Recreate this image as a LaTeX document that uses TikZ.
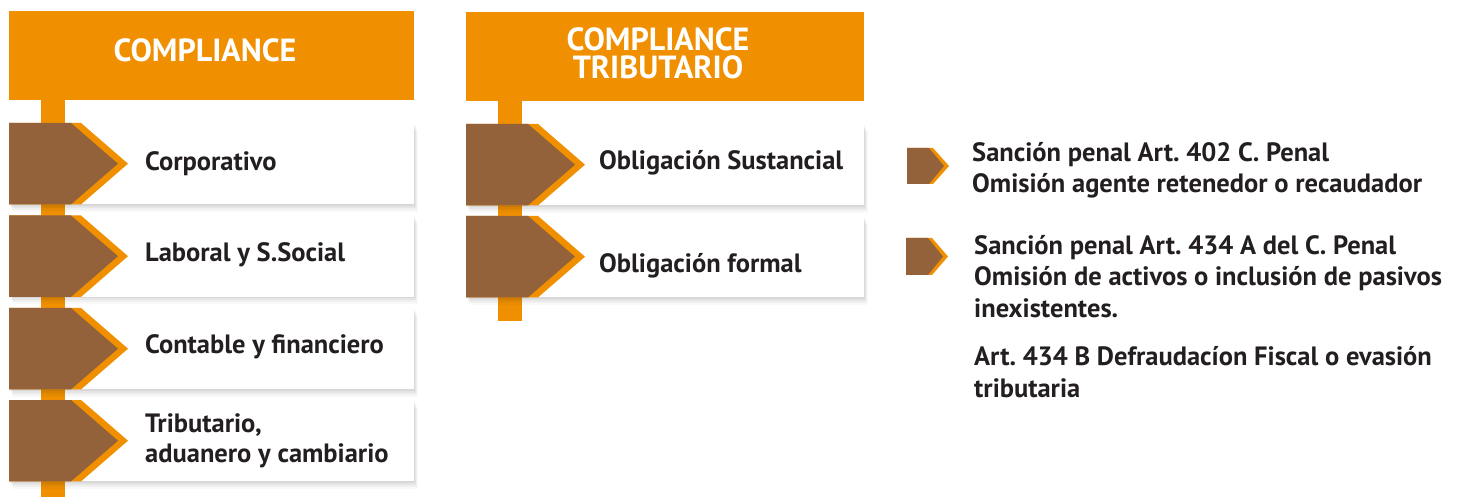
\documentclass[tikz,border=0pt]{standalone}
\usepackage{fontspec}
\setmainfont{PT Sans}
\usetikzlibrary{calc}
\frenchspacing
\definecolor{cor}{RGB}{240,144,0}
\definecolor{brn}{RGB}{147,98,58}
\definecolor{txt}{RGB}{35,31,32}
% [text offset]{name}{x}{ytop}{width}{text}
\newcommand\rowitem[6][136,0]{%
  \foreach \d/\op in {8/0.025,6/0.035,4/0.045,2/0.055}
    \fill[black,opacity=\op] (#3+\d*0.5,#4+\d) rectangle (#3+#5+\d*0.5,#4+81+\d);
  \node[rowbox, minimum width=#5] (#2) at (#3,#4) {};
  \fill[cor] (#2.north west) -- ++(72,0) -- ($(#2.west)+(119,0)$) -- ($(#2.south west)+(72,0)$) -- (#2.south west) -- cycle;
  \fill[brn] (#2.north west) -- ++(62,0) -- ($(#2.west)+(109,0)$) -- ($(#2.south west)+(62,0)$) -- (#2.south west) -- cycle;
  \node[lbl] (#2t) at ($(#2.west)+(#1)$) {#6};
}
\newcommand\marker[4]{% name, x, ytop, h
  \coordinate (#1) at (#2,#3);
  \fill[cor] (#1) -- ++(26,0) -- ++(16,#4/2) -- ++(-16,#4/2) -- ++(-26,0) -- cycle;
  \fill[brn] (#1) -- ++(22,0) -- ++(15,#4/2) -- ++(-15,#4/2) -- ++(-22,0) -- cycle;
}
\begin{document}
\begin{tikzpicture}[x=1pt,y=-1pt,
  hdr/.style={fill=cor, inner sep=0, minimum height=89pt, anchor=north west},
  rowbox/.style={fill=white, inner sep=0, minimum height=81pt, anchor=north west},
  lbl/.style={font=\bfseries\fontsize{26.5}{30}\selectfont, text=txt, anchor=west, inner sep=0, align=left},
  rtxt/.style={font=\bfseries\fontsize{26.5}{31.5}\selectfont, text=txt, anchor=base west, inner sep=0, align=left},
  htxt/.style={font=\bfseries\fontsize{32}{28.5}\selectfont, text=white, align=center, inner sep=0},
  bar/.style={draw=cor, line width=24pt}]
\useasboundingbox (0,0) rectangle (1460,497);
\fill[white] (0,0) rectangle (1460,497);
% headers
\node[hdr, minimum width=405pt] (h1) at (9,11) {};
\node[htxt] (h1t) at (205,50) {COMPLIANCE};
\node[hdr, minimum width=398pt] (h2) at (466,12) {};
\node[htxt, anchor=base] (h2t) at (658,79) {COMPLIANCE\\TRIBUTARIO};
% bars
\coordinate (e1) at (53,497);
\coordinate (e2) at (509.5,321);
\draw[bar] (h1.south west -| e1) -- (e1);
\draw[bar] (h2.south west -| e2) -- (e2);
% rows
\rowitem{r1}{9}{123}{405}{Corporativo}
\rowitem[136,-1]{r2}{9}{215.5}{405}{Laboral y S.Social}
\rowitem[136,-2]{r3}{9}{308}{405}{Contable y financiero}
\rowitem{r4}{9}{400}{405}{Tributario,\\aduanero y cambiario}
\rowitem[133,-2]{m1}{466}{124}{398}{Obligación Sustancial}
\rowitem[133,9]{m2}{466}{216}{398}{Obligación formal}
% right
\marker{k1}{907}{148}{36}
\marker{k2}{906}{238}{37}
\node[rtxt] (t1) at (972,193) {Sanción penal Art. 402 C. Penal\\Omisión agente retenedor o recaudador};
\node[rtxt] (t2) at (974,317) {Sanción penal Art. 434 A del C. Penal\\Omisión de activos o inclusión de pasivos\\inexistentes.};
\node[rtxt] (t3) at (974,397) {Art. 434 B Defraudacíon Fiscal o evasión\\tributaria};
\end{tikzpicture}
\end{document}
